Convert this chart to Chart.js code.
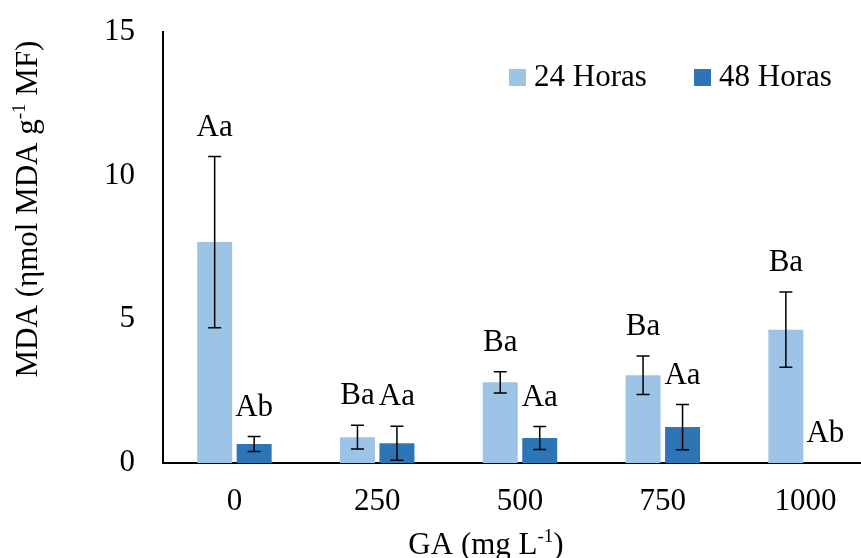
<!DOCTYPE html>
<html>
<head>
  <title>MDA</title>
  <script src="https://cdn.jsdelivr.net/npm/chart.js"></script>
  <style>
    html, body { margin: 0; padding: 0; overflow: hidden; background: #fff; }
    #wrap { width: 880px; height: 558px; }
  </style>
</head>
<body>
  <div id="wrap"><canvas id="mdaChart"></canvas></div>

  <script>
    // valores
    const categories = ["0", "250", "500", "750", "1000"];
    const mda24 = [7.69, 0.90, 2.81, 3.05, 4.64];
    const err24 = [2.98, 0.41, 0.37, 0.67, 1.31];
    const mda48 = [0.66, 0.69, 0.87, 1.25, 0];
    const err48 = [0.26, 0.59, 0.40, 0.79, 0];
    const letters24 = ["Aa", "Ba", "Ba", "Ba", "Ba"];
    const letters48 = ["Ab", "Aa", "Aa", "Aa", "Ab"];
    const seriesNames = ["24 Horas", "48 Horas"];
    const yTicks = [0, 5, 10, 15];

    const FONT = "Liberation Serif";
    const SIZE = 31;
    const errs = [err24, err48];
    const letters = [letters24, letters48];

    // texto com expoente "-1"
    function drawSup(ctx, parts, x, y, size) {
      const big = size + "px " + FONT, small = Math.round(size * 0.62) + "px " + FONT;
      let total = 0;
      parts.forEach(p => { ctx.font = p.sup ? small : big; total += ctx.measureText(p.t).width; });
      let cx = x - total / 2;
      ctx.textAlign = "left";
      ctx.textBaseline = "alphabetic";
      parts.forEach(p => {
        ctx.font = p.sup ? small : big;
        ctx.fillText(p.t, cx, p.sup ? y - size * 0.38 : y);
        cx += ctx.measureText(p.t).width;
      });
    }

    const extras = {
      id: "extras",
      afterDatasetsDraw(chart) {
        const ctx = chart.ctx;
        const y = chart.scales.y;
        ctx.save();
        ctx.strokeStyle = "#000";
        ctx.fillStyle = "#000";
        ctx.lineWidth = 1.5;
        chart.data.datasets.forEach((ds, i) => {
          chart.getDatasetMeta(i).data.forEach((bar, j) => {
            const v = ds.data[j], e = errs[i][j];
            const top = y.getPixelForValue(v + e);
            if (e > 0) {
              const bot = y.getPixelForValue(Math.max(v - e, 0));
              ctx.beginPath();
              ctx.moveTo(bar.x, top); ctx.lineTo(bar.x, bot);
              ctx.moveTo(bar.x - 6.5, top); ctx.lineTo(bar.x + 6.5, top);
              if (v - e > 0) { ctx.moveTo(bar.x - 6.5, bot); ctx.lineTo(bar.x + 6.5, bot); }
              ctx.stroke();
            }
            ctx.font = SIZE + "px " + FONT;
            ctx.textAlign = "center";
            ctx.textBaseline = "middle";
            ctx.fillText(letters[i][j], bar.x, top - 29);
          });
        });

        // legenda
        let lx = 509;
        chart.data.datasets.forEach((ds, i) => {
          ctx.fillStyle = ds.backgroundColor;
          ctx.fillRect(lx, 69, 17, 17);
          ctx.fillStyle = "#000";
          ctx.font = SIZE + "px " + FONT;
          ctx.textAlign = "left";
          ctx.textBaseline = "middle";
          ctx.fillText(ds.label, lx + 25, 78);
          lx = 694;
        });

        // títulos dos eixos
        drawSup(ctx, [{ t: "GA (mg L" }, { t: "-1", sup: true }, { t: ")" }], 486, 554, SIZE);
        ctx.translate(37, 209);
        ctx.rotate(-Math.PI / 2);
        drawSup(ctx, [{ t: "MDA (\u03b7mol MDA g" }, { t: "-1", sup: true }, { t: " MF)" }], 0, 0, SIZE);
        ctx.restore();
      }
    };

    const ctx = document.getElementById("mdaChart").getContext("2d");
    new Chart(ctx, {
      type: "bar",
      data: {
        labels: categories,
        datasets: [
          { label: seriesNames[0], data: mda24, backgroundColor: "#9DC3E6" },
          { label: seriesNames[1], data: mda48, backgroundColor: "#2E75B6" }
        ]
      },
      options: {
        responsive: true,
        maintainAspectRatio: false,
        animation: false,
        layout: { padding: { top: 32, right: 3, left: 0, bottom: 0 } },
        datasets: { bar: { categoryPercentage: 0.553, barPercentage: 0.886 } },
        plugins: { legend: { display: false }, tooltip: { enabled: false } },
        scales: {
          x: {
            grid: { display: false, drawTicks: false },
            border: { color: "#000", width: 2 },
            ticks: { color: "#000", font: { family: FONT, size: SIZE }, padding: 20 },
            afterFit: s => { s.height = 95; s.paddingLeft = 0; s.paddingRight = 0; }
          },
          y: {
            min: 0, max: 15,
            afterBuildTicks: s => { s.ticks = yTicks.map(v => ({ value: v })); },
            grid: { display: false, drawTicks: false },
            border: { color: "#000", width: 2 },
            ticks: { color: "#000", font: { family: FONT, size: SIZE }, padding: 28 },
            afterFit: s => { s.width = 163; s.paddingTop = 0; s.paddingBottom = 0; }
          }
        }
      },
      plugins: [extras]
    });
  </script>
</body>
</html>
